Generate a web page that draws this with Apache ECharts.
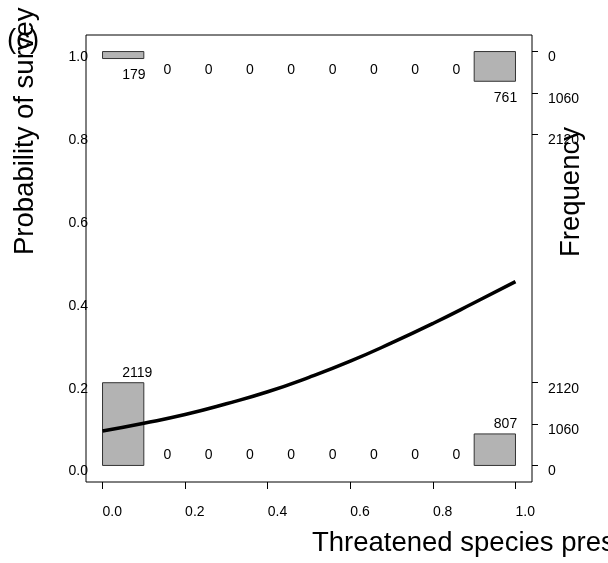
<!DOCTYPE html>
<html>
<head>
<meta charset="utf-8">
<title>Probability of survey vs threatened species presence</title>
<script src="https://cdn.jsdelivr.net/npm/echarts@6/dist/echarts.min.js"></script>
<style>
  html, body { margin: 0; padding: 0; background: #fff; }
  #chart { width: 608px; height: 563px; }
</style>
</head>
<body>
<div id="chart"></div>
<script>
// ---- data ----
// histogram bins (threatened species presence, 0..1 in steps of 0.1)
const binStarts = [0.0, 0.1, 0.2, 0.3, 0.4, 0.5, 0.6, 0.7, 0.8, 0.9];
const binWidth = 0.1;
// counts of surveys with response 0 (bottom) and 1 (top)
const countsAbsent = [2119, 0, 0, 0, 0, 0, 0, 0, 0, 807];
const countsPresent = [179, 0, 0, 0, 0, 0, 0, 0, 0, 761];

// fitted logistic curve, read at each 0.1
const curveX = [0.0, 0.1, 0.2, 0.3, 0.4, 0.5, 0.6, 0.7, 0.8, 0.9, 1.0];
const curveY = [0.083, 0.102, 0.123, 0.149, 0.178, 0.213, 0.252, 0.296, 0.343, 0.393, 0.444];

// tick labels
const xTicks = [0.0, 0.2, 0.4, 0.6, 0.8, 1.0];
const yTicks = [0.0, 0.2, 0.4, 0.6, 0.8, 1.0];
const freqTicks = [0, 1060, 2120];

// histogram height: 2120 counts take 0.2 of the probability axis
const HIST_SCALE = 0.2 / 2120;
const FONT = '"Liberation Sans", Arial, Helvetica, sans-serif';

// right axis: frequency ticks for the bottom histogram and the inverted top one
const freqPos = [];
const freqLabel = [];
freqTicks.forEach(c => { freqPos.push(c * HIST_SCALE); freqLabel.push(String(c)); });
freqTicks.forEach(c => { freqPos.push(1 - c * HIST_SCALE); freqLabel.push(String(c)); });

function freqFormatter(v) {
  let best = 0;
  freqPos.forEach((p, i) => {
    if (Math.abs(p - v) < Math.abs(freqPos[best] - v)) best = i;
  });
  return freqLabel[best];
}

// one item per bar: [start, count, side]  side 0 = bottom, 1 = top
const histData = [];
binStarts.forEach((b, i) => {
  histData.push([b, countsAbsent[i], 0]);
  histData.push([b, countsPresent[i], 1]);
});

function renderHist(params, api) {
  const x0 = api.value(0);
  const count = api.value(1);
  const side = api.value(2);
  const h = count * HIST_SCALE;
  const yBase = side === 0 ? 0 : 1;
  const yEnd = side === 0 ? h : 1 - h;
  const pA = api.coord([x0, yBase]);
  const pB = api.coord([x0 + binWidth, yEnd]);
  const labelAt = api.coord([x0 + binWidth / 2, yEnd]);
  const children = [];
  if (count > 0) {
    children.push({
      type: 'rect',
      shape: {
        x: pA[0], y: Math.min(pA[1], pB[1]),
        width: pB[0] - pA[0], height: Math.abs(pB[1] - pA[1])
      },
      style: { fill: '#b3b3b3', stroke: '#333', lineWidth: 1 }
    });
  }
  children.push({
    type: 'text',
    x: labelAt[0] - 1,
    y: side === 0 ? labelAt[1] - 10 : labelAt[1] + (count > 0 ? 17 : 19),
    style: {
      text: String(count), fill: '#000', font: '14px ' + FONT,
      textAlign: 'left', textVerticalAlign: 'middle'
    }
  });
  return { type: 'group', children: children };
}

const chart = echarts.init(document.getElementById('chart'));

chart.setOption({
  animation: false,
  backgroundColor: '#fff',
  grid: {
    left: 86, right: 76, top: 35, bottom: 81,
    show: true, borderColor: '#000', borderWidth: 1, backgroundColor: 'transparent'
  },
  xAxis: {
    type: 'value', min: -0.04, max: 1.04,
    axisLine: { show: false, onZero: false },
    splitLine: { show: false },
    axisTick: { show: true, length: 7, customValues: xTicks, lineStyle: { color: '#000' } },
    axisLabel: {
      customValues: xTicks, formatter: v => v.toFixed(1),
      align: 'left', margin: 23, fontSize: 14, color: '#000', fontFamily: FONT
    }
  },
  yAxis: [
    {
      type: 'value', min: -0.04, max: 1.04, position: 'left',
      axisLine: { show: false, onZero: false },
      splitLine: { show: false },
      axisTick: { show: false, customValues: yTicks },
      axisLabel: {
        customValues: yTicks, formatter: v => v.toFixed(1),
        margin: -2, verticalAlign: 'top', lineHeight: 12,
        fontSize: 14, color: '#000', fontFamily: FONT
      }
    },
    {
      type: 'value', min: -0.04, max: 1.04, position: 'right',
      axisLine: { show: false, onZero: false },
      splitLine: { show: false },
      axisTick: { show: true, length: 6, customValues: freqPos, lineStyle: { color: '#000' } },
      axisLabel: {
        customValues: freqPos, formatter: freqFormatter,
        margin: 16, verticalAlign: 'top', lineHeight: 12,
        fontSize: 14, color: '#000', fontFamily: FONT
      }
    }
  ],
  series: [
    {
      type: 'custom',
      renderItem: renderHist,
      data: histData,
      clip: false,
      silent: true
    },
    {
      type: 'line',
      data: curveX.map((x, i) => [x, curveY[i]]),
      smooth: true,
      symbol: 'none',
      lineStyle: { color: '#000', width: 3.5 },
      z: 5
    }
  ],
  graphic: [
    {
      type: 'text', x: 312, y: 543,
      style: { text: 'Threatened species presence', font: '27.5px ' + FONT, fill: '#000', textAlign: 'left', textVerticalAlign: 'middle' }
    },
    {
      type: 'text', x: 25, y: 255, rotation: Math.PI / 2,
      style: { text: 'Probability of survey', font: '27.5px ' + FONT, fill: '#000', textAlign: 'left', textVerticalAlign: 'middle' }
    },
    {
      type: 'text', x: 571, y: 257, rotation: Math.PI / 2,
      style: { text: 'Frequency', font: '27.5px ' + FONT, fill: '#000', textAlign: 'left', textVerticalAlign: 'middle' }
    },
    {
      type: 'text', x: 7, y: 40,
      style: { text: '(c)', font: '27.5px ' + FONT, fill: '#000', textAlign: 'left', textVerticalAlign: 'middle' }
    }
  ]
});
</script>
</body>
</html>
